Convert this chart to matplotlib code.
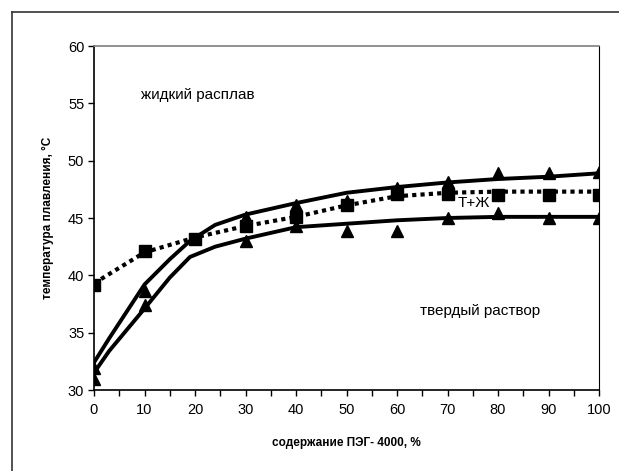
import matplotlib
matplotlib.use("Agg")
import matplotlib.pyplot as plt
from matplotlib.lines import Line2D
from matplotlib.ticker import MultipleLocator

plt.rcParams['font.family'] = ['Liberation Sans', 'DejaVu Sans']

# Measured points
x_pts = [0, 10, 20, 30, 40, 50, 60, 70, 80, 90, 100]
sq_vals = [39.2, 42.1, 43.2, 44.3, 45.1, 46.1, 47.1, 47.1, 47.0, 47.0, 47.0]

tri_x = [0, 10, 30, 40, 50, 60, 70, 80, 90, 100]
tri_upper = [31.9, 38.6, 45.1, 46.1, 46.5, 47.6, 48.1, 48.9, 48.9, 49.0]
tri_lower = [31.0, 37.4, 43.0, 44.3, 43.9, 43.9, 45.0, 45.45, 45.0, 45.0]

# Boundary curves
curve_x = [0, 3, 10, 15, 19, 24, 30, 40, 50, 60, 70, 80, 90, 100]
liquidus = [32.4, 34.5, 39.2, 41.4, 43.0, 44.4, 45.3, 46.3, 47.2, 47.7, 48.1, 48.4, 48.6, 48.9]
solidus = [31.5, 33.4, 37.1, 39.8, 41.6, 42.5, 43.2, 44.2, 44.5, 44.8, 45.0, 45.1, 45.1, 45.1]

dotted_x = [0, 10, 20, 30, 40, 50, 60, 70, 80, 90, 100]
dotted_vals = [39.3, 42.0, 43.3, 44.3, 45.1, 46.1, 46.9, 47.2, 47.3, 47.3, 47.3]

x_ticks = [0, 10, 20, 30, 40, 50, 60, 70, 80, 90, 100]
y_ticks = [30, 35, 40, 45, 50, 55, 60]

W, H = 619, 471
fig = plt.figure(figsize=(W / 100, H / 100), dpi=100)
ax = fig.add_axes([94 / W, 1 - 390 / H, (599 - 94) / W, (390 - 46) / H])

ax.plot(curve_x, liquidus, color='black', lw=2.8, solid_joinstyle='round', zorder=3)
ax.plot(curve_x, solidus, color='black', lw=2.8, solid_joinstyle='round', zorder=3)
ax.plot(dotted_x, dotted_vals, color='black', lw=3.0, linestyle=(0, (1, 1)), zorder=3)

ax.plot(x_pts, sq_vals, linestyle='none', marker='s', ms=8, color='black', zorder=4)
ax.plot(tri_x, tri_upper, linestyle='none', marker='^', ms=9, color='black', zorder=4)
ax.plot(tri_x, tri_lower, linestyle='none', marker='^', ms=9, color='black', zorder=4)

ax.set_xlim(0, 100)
ax.set_ylim(30, 60)
ax.set_xticks(x_ticks)
ax.set_yticks(y_ticks)
ax.xaxis.set_minor_locator(MultipleLocator(5))
ax.tick_params(axis='both', which='major', direction='out', length=4, width=1,
               labelsize=10.5, color='black')
ax.tick_params(axis='x', which='minor', direction='out', length=4, width=1)
ax.tick_params(axis='x', pad=5)
ax.tick_params(axis='y', pad=3)

ax.spines['left'].set_linewidth(1.2)
ax.spines['bottom'].set_linewidth(1.2)
ax.spines['top'].set_color('#7f7f7f')
ax.spines['top'].set_linewidth(1.2)
ax.spines['right'].set_color('black')
ax.spines['right'].set_linewidth(0.8)

ax.text(9.3, 55.7, 'жидкий расплав', fontsize=11, va='center', ha='left')
ax.text(64.6, 36.9, 'твердый раствор', fontsize=11, va='center', ha='left')
ax.text(72.1, 46.3, 'Т+Ж', fontsize=11, va='center', ha='left')

fig.text(346 / W, 1 - 443 / H, 'содержание ПЭГ- 4000, %', fontsize=8.5, fontweight='bold',
         ha='center', va='center')
fig.text(48 / W, 1 - 218 / H, 'температура плавления, °С', fontsize=8.5, fontweight='bold',
         ha='center', va='center', rotation=90)

# Chart area border
fig.add_artist(Line2D([12 / W, 12 / W], [0, 1 - 12 / H], transform=fig.transFigure,
                      color='#333333', lw=1.2))
fig.add_artist(Line2D([12 / W, 1], [1 - 12 / H, 1 - 12 / H], transform=fig.transFigure,
                      color='#333333', lw=1.2))

fig.savefig('out.png', dpi=100)
